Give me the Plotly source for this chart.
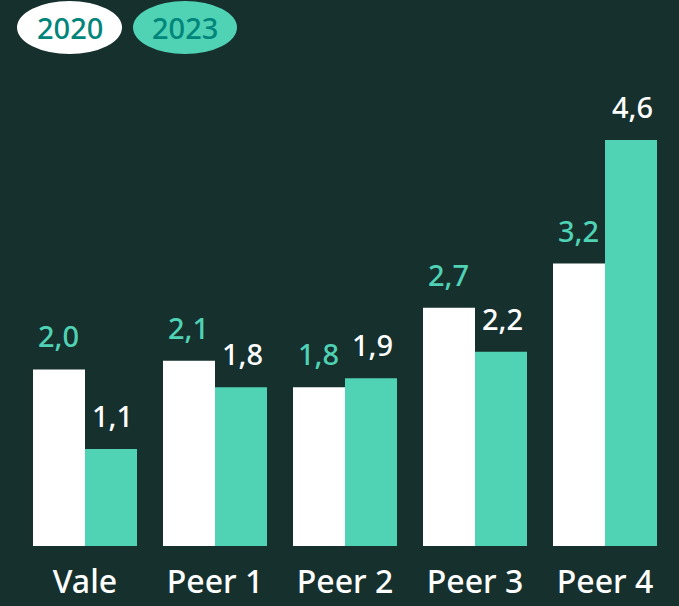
import plotly.graph_objects as go

categories = ["Vale", "Peer 1", "Peer 2", "Peer 3", "Peer 4"]
series_names = ["2020", "2023"]
values_2020 = [2.0, 2.1, 1.8, 2.7, 3.2]
values_2023 = [1.1, 1.8, 1.9, 2.2, 4.6]

WHITE = "#FFFFFF"
TEAL = "#50D2B5"
DARK_TEAL = "#00857A"
BG = "#16302D"
FONT = "Noto Sans"

def fmt(v):
    return f"{v:.1f}".replace(".", ",")

fig = go.Figure()
fig.add_trace(go.Bar(x=categories, y=values_2020, name=series_names[0],
                     marker=dict(color=WHITE, line=dict(width=0)), offsetgroup="a"))
fig.add_trace(go.Bar(x=categories, y=values_2023, name=series_names[1],
                     marker=dict(color=TEAL, line=dict(width=0)), offsetgroup="b"))

annotations = []
for c, v in zip(categories, values_2020):
    annotations.append(dict(x=c, y=v, xref="x", yref="y", text=fmt(v), showarrow=False,
                            xshift=-27, yshift=12, yanchor="bottom",
                            font=dict(family=FONT, size=29, color=TEAL, weight=500)))
for c, v in zip(categories, values_2023):
    annotations.append(dict(x=c, y=v, xref="x", yref="y", text=fmt(v), showarrow=False,
                            xshift=27, yshift=12, yanchor="bottom",
                            font=dict(family=FONT, size=29, color=WHITE, weight=500)))

# legend pills
W, H = 679, 606
pills = [(17, 122, WHITE), (133, 237, TEAL)]
shapes = []
for (x0, x1, col), name in zip(pills, series_names):
    shapes.append(dict(type="circle", xref="paper", yref="paper",
                       x0=(x0 - 20) / 650, x1=(x1 - 20) / 650,
                       y0=1 + (80 - 54) / 466, y1=1 + (80 - 1) / 466,
                       fillcolor=col, line=dict(width=0), layer="above"))
    annotations.append(dict(x=((x0 + x1) / 2 - 20) / 650, y=1 + (80 - 28) / 466,
                            xref="paper", yref="paper", text=name, showarrow=False,
                            xanchor="center", yanchor="middle",
                            font=dict(family=FONT, size=29, color=DARK_TEAL, weight=500)))

fig.update_layout(
    width=W, height=H,
    margin=dict(l=20, r=9, t=80, b=60, autoexpand=False),
    paper_bgcolor=BG, plot_bgcolor=BG,
    barmode="group", bargap=0.2, bargroupgap=0,
    showlegend=False,
    shapes=shapes, annotations=annotations,
    xaxis=dict(showgrid=False, zeroline=False, showline=False, ticks="",
               automargin=False,
               tickfont=dict(family=FONT, size=32, color=WHITE, weight=500),
               ticklabelstandoff=14),
    yaxis=dict(range=[0, 5.28], visible=False, showgrid=False, zeroline=False,
               automargin=False),
)

fig.write_html("out.html", config={"displayModeBar": False},
               post_script="document.body.style.margin='0';document.body.style.padding='0';")
